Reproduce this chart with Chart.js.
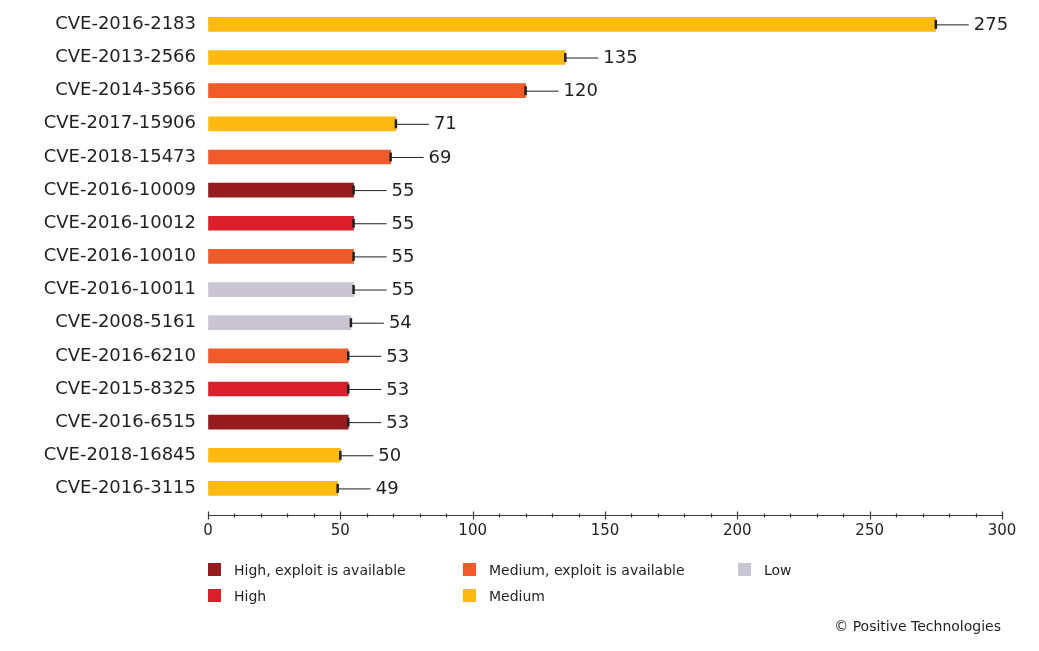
<!DOCTYPE html>
<html>
<head>
<meta charset="utf-8">
<script src="https://cdn.jsdelivr.net/npm/chart.js@4"></script>
<style>
  html, body { margin: 0; padding: 0; background: #fff; }
  #wrap { position: relative; width: 1039px; height: 651px; overflow: hidden; }
  #myChart { position: absolute; left: 0; top: -7px; }
  .lg { position: absolute; font: 14px "DejaVu Sans", sans-serif; color: #231f20; line-height: 16px; white-space: nowrap; }
  .lg i { position: absolute; left: -26px; top: 1px; width: 13px; height: 13px; }
  #copy { position: absolute; right: 38px; top: 618px; font: 14px "DejaVu Sans", sans-serif; color: #231f20; }
</style>
</head>
<body>
<div id="wrap">
  <canvas id="myChart" width="1039" height="658"></canvas>
  <div id="legend"></div>
  <div id="copy">© Positive Technologies</div>
</div>
<script>
/* 데이터 */
var cveLabels = ['CVE-2016-2183', 'CVE-2013-2566', 'CVE-2014-3566', 'CVE-2017-15906', 'CVE-2018-15473',
  'CVE-2016-10009', 'CVE-2016-10012', 'CVE-2016-10010', 'CVE-2016-10011', 'CVE-2008-5161',
  'CVE-2016-6210', 'CVE-2015-8325', 'CVE-2016-6515', 'CVE-2018-16845', 'CVE-2016-3115'];
var cveCounts = [275, 135, 120, 71, 69, 55, 55, 55, 55, 54, 53, 53, 53, 50, 49];
/* 0: High exploit, 1: High, 2: Medium exploit, 3: Medium, 4: Low */
var cveSeverity = [3, 3, 2, 3, 2, 0, 1, 2, 4, 4, 2, 1, 0, 3, 3];
var severityNames = ['High, exploit is available', 'High', 'Medium, exploit is available', 'Medium', 'Low'];
var severityColors = ['#951b1f', '#db1f2a', '#f15a29', '#fdba12', '#c9c5d2'];
var xTicks = [0, 50, 100, 150, 200, 250, 300];

var textColor = '#231f20';
var fontFamily = '"DejaVu Sans", sans-serif';

/* 막대 끝 지시선 + 값 */
var leaderPlugin = {
  id: 'leader',
  afterDatasetsDraw: function(chart) {
    var ctx = chart.ctx;
    var meta = chart.getDatasetMeta(0);
    ctx.save();
    ctx.strokeStyle = textColor;
    ctx.fillStyle = textColor;
    ctx.font = '18px ' + fontFamily;
    ctx.textBaseline = 'middle';
    meta.data.forEach(function(bar, i) {
      var x = bar.x, y = bar.y;
      ctx.lineWidth = 2.5;
      ctx.beginPath();
      ctx.moveTo(x, y - 4.5);
      ctx.lineTo(x, y + 4.5);
      ctx.stroke();
      ctx.lineWidth = 1;
      ctx.beginPath();
      ctx.moveTo(x, y + 0.5);
      ctx.lineTo(x + 33, y + 0.5);
      ctx.stroke();
      ctx.fillText(cveCounts[i], x + 38, y + 1);
    });
    ctx.restore();
  },
  afterDraw: function(chart) {
    /* x축 선과 눈금 */
    var ctx = chart.ctx;
    var xs = chart.scales.x;
    var yLine = chart.chartArea.bottom + 10.5;
    ctx.save();
    ctx.strokeStyle = '#3a3a3a';
    ctx.lineWidth = 1.2;
    ctx.beginPath();
    ctx.moveTo(xs.getPixelForValue(0), yLine);
    ctx.lineTo(xs.getPixelForValue(300), yLine);
    ctx.stroke();
    for (var v = 0; v <= 300; v += 10) {
      var px = Math.round(xs.getPixelForValue(v)) + 0.5;
      var h = (v % 50 === 0) ? 4 : 2;
      ctx.beginPath();
      ctx.moveTo(px, yLine - h);
      ctx.lineTo(px, yLine + h);
      ctx.stroke();
    }
    ctx.restore();
  }
};

function createChart() {
  var ctx = document.getElementById('myChart').getContext('2d');
  return new Chart(ctx, {
    type: 'bar',
    data: {
      labels: cveLabels,
      datasets: [{
        data: cveCounts,
        backgroundColor: cveSeverity.map(function(s) { return severityColors[s]; }),
        barThickness: 14,
        borderWidth: 0
      }]
    },
    options: {
      indexAxis: 'y',
      responsive: false,
      animation: false,
      layout: { padding: { top: 0, right: 37, bottom: 106, left: 0 } },
      plugins: { legend: { display: false }, tooltip: { enabled: false } },
      scales: {
        x: {
          min: 0,
          max: 300,
          afterBuildTicks: function(scale) {
            scale.ticks = xTicks.map(function(v) { return { value: v }; });
          },
          afterFit: function(scale) { scale.height = 40; },
          border: { display: false },
          grid: { drawOnChartArea: false, drawTicks: true, tickLength: 10, color: 'rgba(0,0,0,0)' },
          ticks: { color: textColor, font: { family: fontFamily, size: 15 }, padding: 7, maxRotation: 0 }
        },
        y: {
          afterFit: function(scale) { scale.width = 208; },
          border: { display: false },
          grid: { display: false },
          ticks: { color: textColor, font: { family: fontFamily, size: 18 }, padding: 4 }
        }
      }
    },
    plugins: [leaderPlugin]
  });
}

/* 범례: 열 단위 배치 */
function createLegend() {
  var box = document.getElementById('legend');
  var pos = [[234, 562], [234, 588], [489, 562], [489, 588], [764, 562]];
  severityNames.forEach(function(name, i) {
    var d = document.createElement('div');
    d.className = 'lg';
    d.style.left = pos[i][0] + 'px';
    d.style.top = pos[i][1] + 'px';
    d.innerHTML = '<i style="background:' + severityColors[i] + '"></i>' + name;
    box.appendChild(d);
  });
}

createChart();
createLegend();
</script>
</body>
</html>
